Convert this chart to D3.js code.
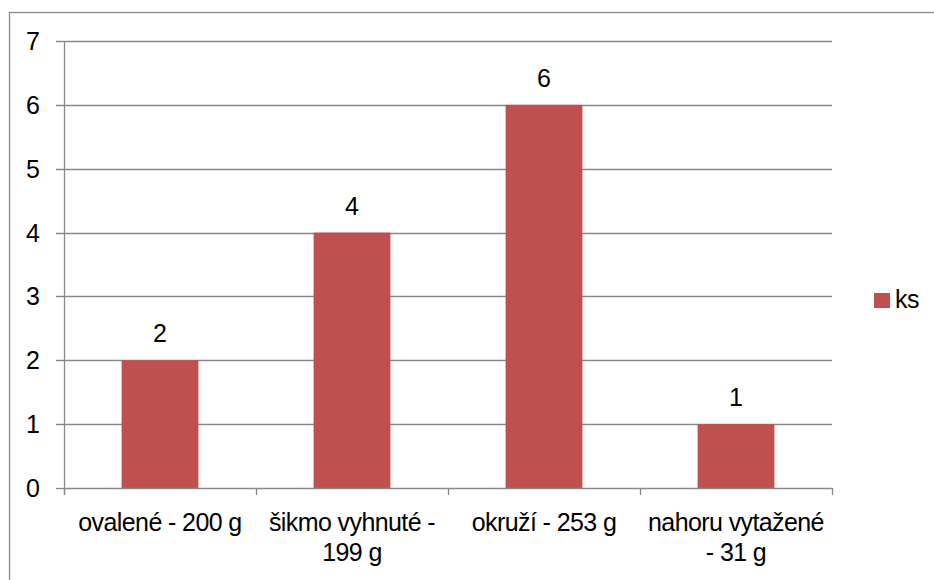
<!DOCTYPE html>
<html>
<head>
<meta charset="utf-8">
<script src="https://cdnjs.cloudflare.com/ajax/libs/d3/7.8.5/d3.min.js"></script>
<style>
  html, body { margin: 0; padding: 0; background: #fff; }
  svg { display: block; font-family: "Liberation Sans", Arial, sans-serif; }
</style>
</head>
<body>
<svg id="chart" width="934" height="580"></svg>
<script>
// Data
const categories = ["ovalené - 200 g", "šikmo vyhnuté - 199 g", "okruží - 253 g", "nahoru vytažené - 31 g"];
const categoryLines = [["ovalené - 200 g"], ["šikmo vyhnuté -", "199 g"], ["okruží - 253 g"], ["nahoru vytažené", "- 31 g"]];
const values = [2, 4, 6, 1];
const yTicks = [0, 1, 2, 3, 4, 5, 6, 7];
const seriesName = "ks";

const svg = d3.select("#chart");
const gray = "#898989";
const barColor = "#C0504D";
const fontSize = 25;

// Outer frame
svg.append("rect")
  .attr("x", 9.5).attr("y", 12.5)
  .attr("width", 940).attr("height", 580)
  .attr("fill", "none").attr("stroke", gray).attr("stroke-width", 1.3);

const plot = { left: 64, right: 832, top: 41, bottom: 488 };

const x = d3.scaleBand()
  .domain(categories)
  .range([plot.left, plot.right])
  .paddingInner(0.6).paddingOuter(0.3);

const y = d3.scaleLinear().domain([0, 7]).range([plot.bottom, plot.top]);

// Gridlines with left tick stubs
svg.append("g").selectAll("line")
  .data(yTicks.filter(t => t > 0))
  .join("line")
  .attr("x1", plot.left - 8).attr("x2", plot.right)
  .attr("y1", d => Math.round(y(d)) + 0.5).attr("y2", d => Math.round(y(d)) + 0.5)
  .attr("stroke", gray).attr("stroke-width", 1.3);

// Bars
svg.append("g").selectAll("rect")
  .data(values)
  .join("rect")
  .attr("x", (d, i) => x(categories[i]))
  .attr("width", x.bandwidth())
  .attr("y", d => y(d))
  .attr("height", d => y(0) - y(d))
  .attr("fill", barColor);

// Value labels
svg.append("g").selectAll("text")
  .data(values)
  .join("text")
  .attr("x", (d, i) => x(categories[i]) + x.bandwidth() / 2)
  .attr("y", d => y(d) - 18)
  .attr("text-anchor", "middle")
  .attr("font-size", fontSize)
  .attr("fill", "#000")
  .text(d => d);

// Y axis
const yAxis = svg.append("g");
yAxis.append("line")
  .attr("x1", plot.left + 0.5).attr("x2", plot.left + 0.5)
  .attr("y1", plot.top).attr("y2", plot.bottom + 6)
  .attr("stroke", gray).attr("stroke-width", 1.3);
yAxis.append("line")
  .attr("x1", plot.left - 8).attr("x2", plot.left)
  .attr("y1", plot.bottom + 0.5).attr("y2", plot.bottom + 0.5)
  .attr("stroke", gray).attr("stroke-width", 1.3);
yAxis.selectAll("text")
  .data(yTicks)
  .join("text")
  .attr("x", 40)
  .attr("y", d => y(d) + 9)
  .attr("text-anchor", "end")
  .attr("font-size", fontSize)
  .attr("fill", "#000")
  .text(d => d);

// X axis
const xAxis = svg.append("g");
xAxis.append("line")
  .attr("x1", plot.left).attr("x2", plot.right)
  .attr("y1", plot.bottom + 0.5).attr("y2", plot.bottom + 0.5)
  .attr("stroke", gray).attr("stroke-width", 1.3);
const bandStep = x.step();
const boundaries = d3.range(categories.length + 1).map(i => plot.left + i * bandStep);
xAxis.selectAll("line.tick")
  .data(boundaries)
  .join("line")
  .attr("class", "tick")
  .attr("x1", d => Math.round(d) + 0.5).attr("x2", d => Math.round(d) + 0.5)
  .attr("y1", plot.bottom).attr("y2", plot.bottom + 7)
  .attr("stroke", gray).attr("stroke-width", 1.3);

const labels = xAxis.selectAll("text.cat")
  .data(categories)
  .join("text")
  .attr("class", "cat")
  .attr("text-anchor", "middle")
  .attr("font-size", fontSize)
  .attr("letter-spacing", -0.6)
  .attr("fill", "#000");
labels.each(function(d, i) {
  const cx = x(d) + x.bandwidth() / 2;
  d3.select(this).selectAll("tspan")
    .data(categoryLines[i])
    .join("tspan")
    .attr("x", cx)
    .attr("y", (l, j) => 531 + j * 30)
    .text(l => l);
});

// Legend
const legend = svg.append("g");
legend.append("rect")
  .attr("x", 874).attr("y", 293)
  .attr("width", 16).attr("height", 15)
  .attr("fill", barColor);
legend.append("text")
  .attr("x", 895).attr("y", 308)
  .attr("font-size", fontSize)
  .attr("letter-spacing", -0.6)
  .attr("fill", "#000")
  .text(seriesName);
</script>
</body>
</html>
